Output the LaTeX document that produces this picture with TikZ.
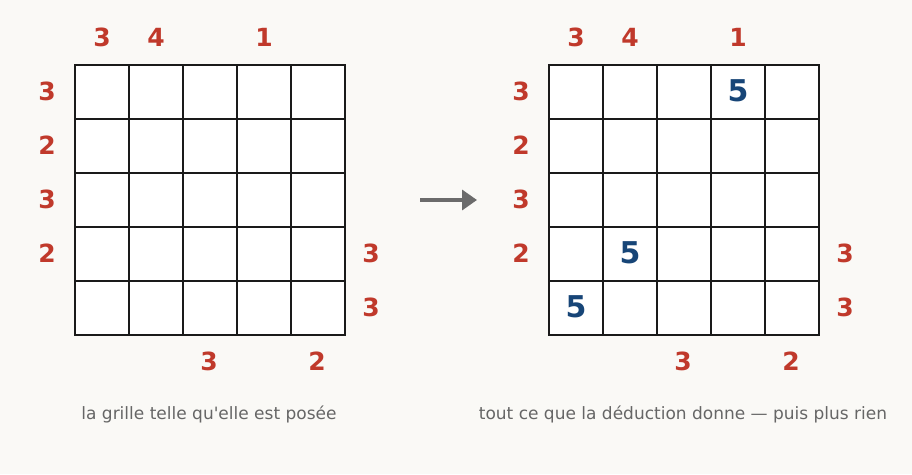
\documentclass[tikz,border=0pt]{standalone}
\usepackage{fontspec}
\setmainfont{DejaVu Sans}
\newfontfamily\capfont{DejaVu Sans}
\usetikzlibrary{arrows.meta}
\definecolor{bg}{HTML}{FAF9F6}
\definecolor{clue}{HTML}{C0392B}
\definecolor{val}{HTML}{174577}
\definecolor{gridc}{HTML}{1A1A1A}
\definecolor{capc}{HTML}{666666}
\definecolor{arr}{HTML}{6B6B6B}
\tikzset{
  cell/.style={draw=gridc, line width=2.5pt, fill=white, minimum size=54pt, inner sep=0pt, outer sep=0pt},
  cluetxt/.style={text=clue, font=\fontsize{25}{25}\selectfont\bfseries, inner sep=0pt},
  valtxt/.style={text=val, font=\fontsize{30}{30}\selectfont\bfseries, inner sep=0pt},
  captxt/.style={text=capc, font=\capfont\fontsize{17}{17}\selectfont, inner sep=0pt},
}
\begin{document}
\begin{tikzpicture}[x=1pt,y=-1pt]
\fill[bg] (0,0) rectangle (912,474);
\useasboundingbox (0,0) rectangle (912,474);
% grids
\foreach \g/\ox in {L/75, R/549} {
  \foreach \r in {0,...,4} {
    \foreach \c in {0,...,4} {
      \node[cell] (\g-\r-\c) at ({\ox+27+54*\c},{92+54*\r}) {};
    }
  }
  % top clues
  \node[cluetxt] (\g-t0) at ({\ox+27},37) {3};
  \node[cluetxt] (\g-t1) at ({\ox+81},37) {4};
  \node[cluetxt] (\g-t3) at ({\ox+189},37) {1};
  % left clues
  \node[cluetxt] (\g-l0) at ({\ox-28},91) {3};
  \node[cluetxt] (\g-l1) at ({\ox-28},145) {2};
  \node[cluetxt] (\g-l2) at ({\ox-28},199) {3};
  \node[cluetxt] (\g-l3) at ({\ox-28},253) {2};
  % right clues
  \node[cluetxt] (\g-r3) at ({\ox+296},253) {3};
  \node[cluetxt] (\g-r4) at ({\ox+296},307) {3};
  % bottom clues
  \node[cluetxt] (\g-b2) at ({\ox+134},361) {3};
  \node[cluetxt] (\g-b4) at ({\ox+242},361) {2};
}
% values
\node[valtxt] (v1) at ([yshift=1.5pt]R-0-3.center) {5};
\node[valtxt] (v2) at ([yshift=1.5pt]R-3-1.center) {5};
\node[valtxt] (v3) at ([yshift=1.5pt]R-4-0.center) {5};
% arrow
\coordinate (a1) at (420,200);
\coordinate (a2) at (477,200);
\draw[arr, line width=3.5pt, -{Triangle[length=15pt,width=20pt]}] (a1) -- (a2);
% captions
\node[captxt] (c1) at (209,414) {la grille telle qu'elle est posée};
\node[captxt] (c2) at (683,414) {tout ce que la déduction donne — puis plus rien};
\end{tikzpicture}
\end{document}
